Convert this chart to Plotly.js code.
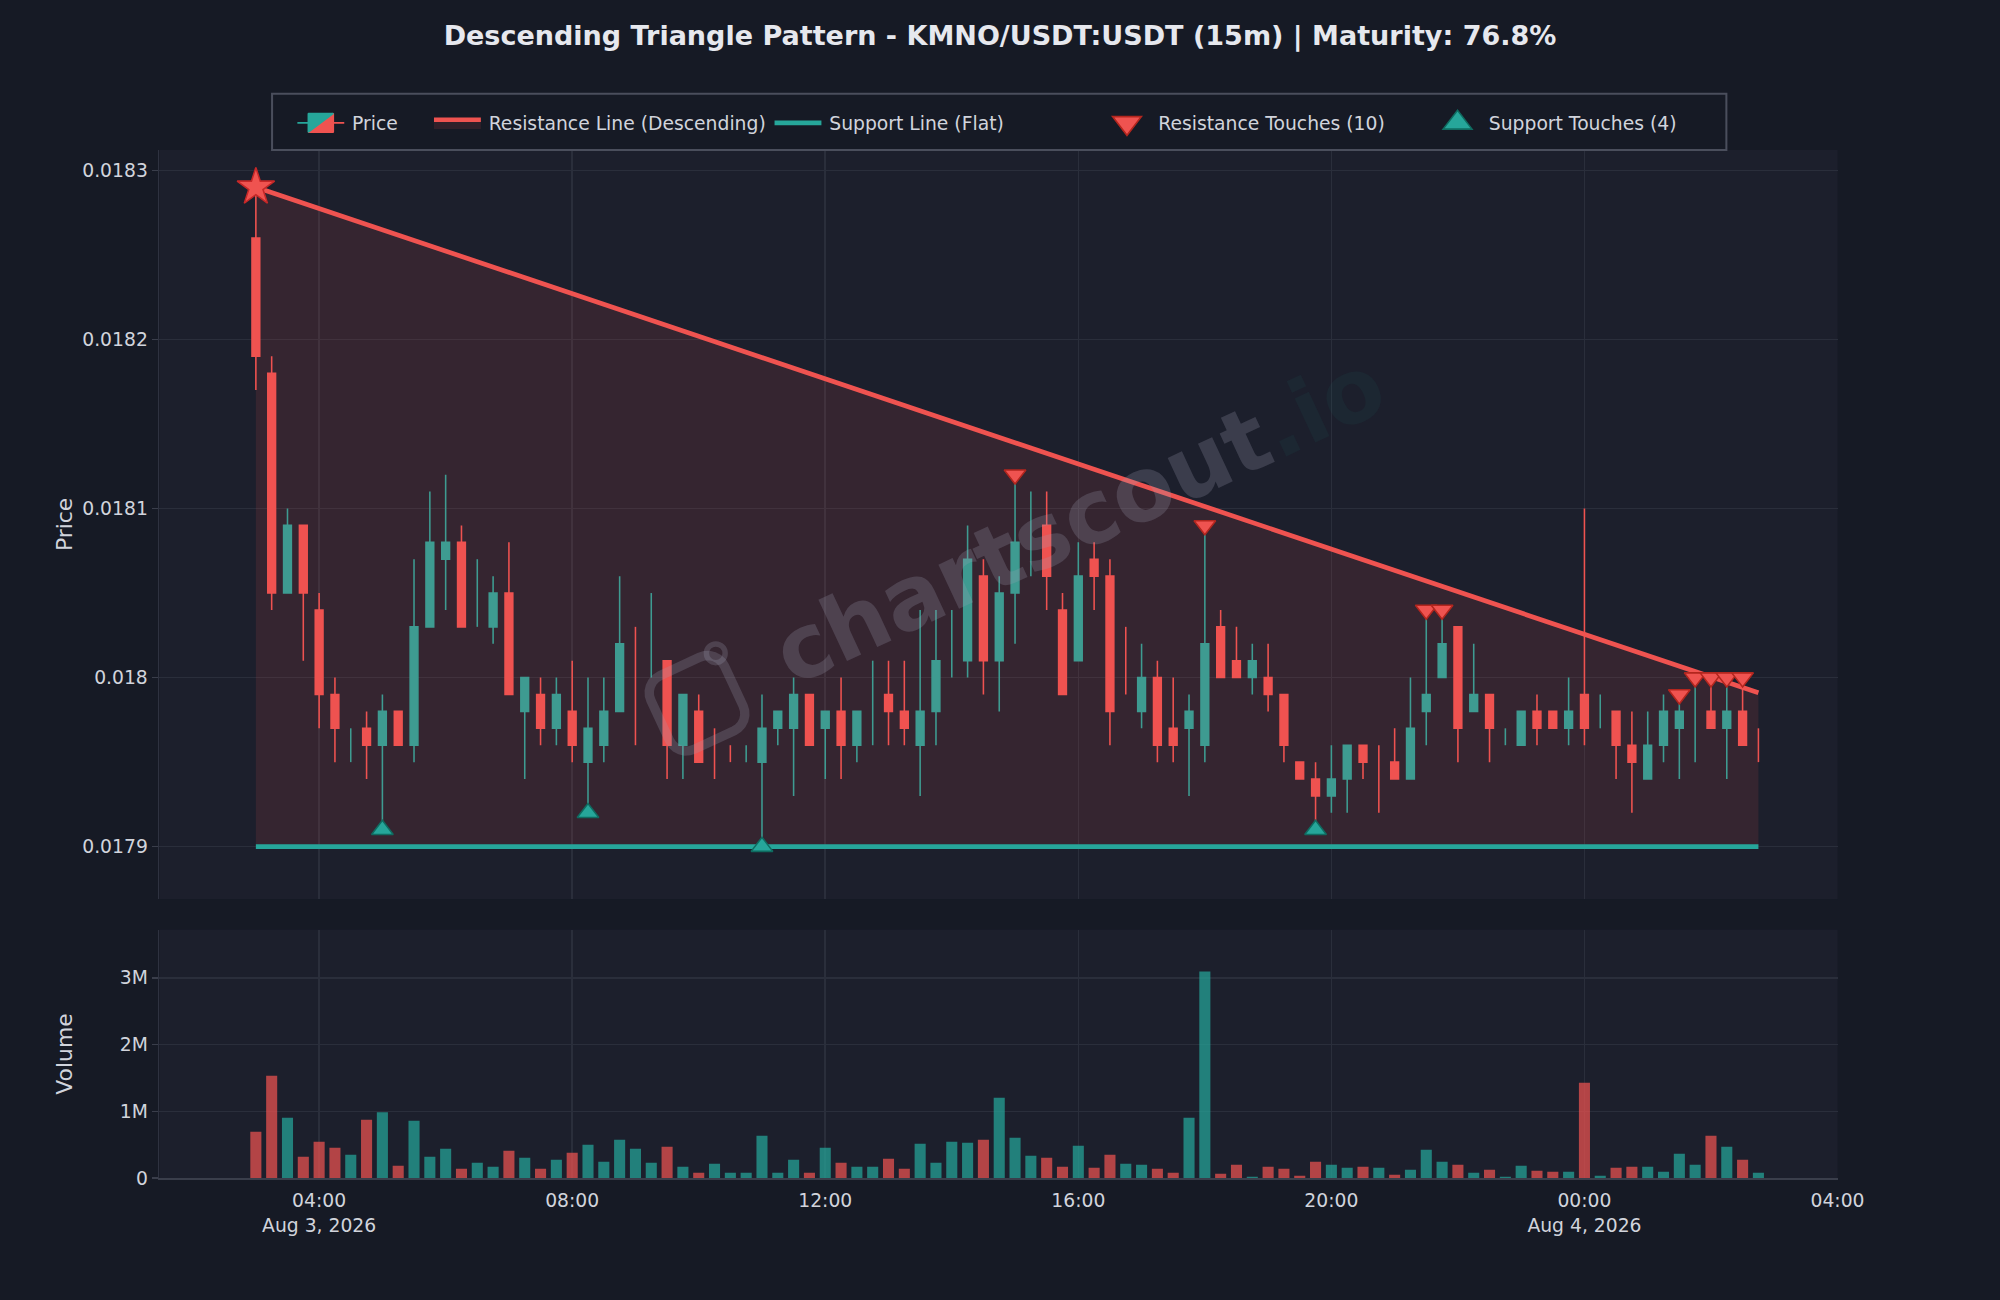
<!DOCTYPE html>
<html>
<head>
<meta charset="utf-8">
<script src="https://cdn.plot.ly/plotly-3.0.1.min.js"></script>
<style>
html,body{margin:0;padding:0;background:#161a25;}
#wrap{width:2000px;height:1300px;overflow:hidden;background:#161a25;}
#chart{width:1280px;height:832px;transform:scale(1.5625);transform-origin:0 0;}
</style>
</head>
<body>
<div id="wrap"><div id="chart"></div></div>
<script>
// ---- Data (15m candles, KMNO/USDT:USDT) ----
const times = [
'2026-08-03 03:00','2026-08-03 03:15','2026-08-03 03:30','2026-08-03 03:45',
'2026-08-03 04:00','2026-08-03 04:15','2026-08-03 04:30','2026-08-03 04:45',
'2026-08-03 05:00','2026-08-03 05:15','2026-08-03 05:30','2026-08-03 05:45',
'2026-08-03 06:00','2026-08-03 06:15','2026-08-03 06:30','2026-08-03 06:45',
'2026-08-03 07:00','2026-08-03 07:15','2026-08-03 07:30','2026-08-03 07:45',
'2026-08-03 08:00','2026-08-03 08:15','2026-08-03 08:30','2026-08-03 08:45',
'2026-08-03 09:00','2026-08-03 09:15','2026-08-03 09:30','2026-08-03 09:45',
'2026-08-03 10:00','2026-08-03 10:15','2026-08-03 10:30','2026-08-03 10:45',
'2026-08-03 11:00','2026-08-03 11:15','2026-08-03 11:30','2026-08-03 11:45',
'2026-08-03 12:00','2026-08-03 12:15','2026-08-03 12:30','2026-08-03 12:45',
'2026-08-03 13:00','2026-08-03 13:15','2026-08-03 13:30','2026-08-03 13:45',
'2026-08-03 14:00','2026-08-03 14:15','2026-08-03 14:30','2026-08-03 14:45',
'2026-08-03 15:00','2026-08-03 15:15','2026-08-03 15:30','2026-08-03 15:45',
'2026-08-03 16:00','2026-08-03 16:15','2026-08-03 16:30','2026-08-03 16:45',
'2026-08-03 17:00','2026-08-03 17:15','2026-08-03 17:30','2026-08-03 17:45',
'2026-08-03 18:00','2026-08-03 18:15','2026-08-03 18:30','2026-08-03 18:45',
'2026-08-03 19:00','2026-08-03 19:15','2026-08-03 19:30','2026-08-03 19:45',
'2026-08-03 20:00','2026-08-03 20:15','2026-08-03 20:30','2026-08-03 20:45',
'2026-08-03 21:00','2026-08-03 21:15','2026-08-03 21:30','2026-08-03 21:45',
'2026-08-03 22:00','2026-08-03 22:15','2026-08-03 22:30','2026-08-03 22:45',
'2026-08-03 23:00','2026-08-03 23:15','2026-08-03 23:30','2026-08-03 23:45',
'2026-08-04 00:00','2026-08-04 00:15','2026-08-04 00:30','2026-08-04 00:45',
'2026-08-04 01:00','2026-08-04 01:15','2026-08-04 01:30','2026-08-04 01:45',
'2026-08-04 02:00','2026-08-04 02:15','2026-08-04 02:30','2026-08-04 02:45'
];
const openPrices = [
0.01826,0.01818,0.01805,0.01809,0.01804,0.01799,0.01796,0.01797,0.01796,0.01798,
0.01796,0.01803,0.01807,0.01808,0.01804,0.01803,0.01805,0.01798,0.01799,0.01797,
0.01798,0.01795,0.01796,0.01798,0.01800,0.01802,0.01801,0.01796,0.01798,0.01796,
0.01795,0.01796,0.01795,0.01797,0.01797,0.01799,0.01797,0.01798,0.01796,0.01798,
0.01799,0.01798,0.01796,0.01798,0.01802,0.01801,0.01806,0.01801,0.01805,0.01808,
0.01809,0.01804,0.01801,0.01807,0.01806,0.01800,0.01798,0.01800,0.01797,0.01797,
0.01796,0.01803,0.01801,0.01800,0.01800,0.01799,0.01795,0.01794,0.01793,0.01794,
0.01796,0.01794,0.01795,0.01794,0.01798,0.01800,0.01803,0.01798,0.01799,0.01797,
0.01796,0.01798,0.01798,0.01797,0.01799,0.01798,0.01798,0.01796,0.01794,0.01796,
0.01797,0.01798,0.01798,0.01797,0.01798,0.01796
];
const highPrices = [
0.01829,0.01819,0.01810,0.01809,0.01805,0.01800,0.01797,0.01798,0.01799,0.01798,
0.01807,0.01811,0.01812,0.01809,0.01807,0.01806,0.01808,0.01800,0.01800,0.01800,
0.01801,0.01800,0.01800,0.01806,0.01803,0.01805,0.01801,0.01799,0.01799,0.01797,
0.01796,0.01796,0.01799,0.01798,0.01800,0.01799,0.01798,0.01800,0.01798,0.01801,
0.01801,0.01801,0.01804,0.01804,0.01804,0.01809,0.01807,0.01806,0.01812,0.01811,
0.01811,0.01805,0.01808,0.01808,0.01807,0.01803,0.01802,0.01801,0.01800,0.01799,
0.01809,0.01804,0.01803,0.01802,0.01802,0.01799,0.01795,0.01795,0.01796,0.01796,
0.01796,0.01796,0.01797,0.01800,0.01804,0.01804,0.01803,0.01802,0.01799,0.01797,
0.01798,0.01799,0.01798,0.01800,0.01810,0.01799,0.01798,0.01798,0.01798,0.01799,
0.01799,0.01800,0.01800,0.01800,0.01800,0.01797
];
const lowPrices = [
0.01817,0.01804,0.01805,0.01801,0.01797,0.01795,0.01795,0.01794,0.01791,0.01796,
0.01795,0.01803,0.01804,0.01803,0.01803,0.01802,0.01799,0.01794,0.01796,0.01796,
0.01795,0.01792,0.01795,0.01798,0.01796,0.01800,0.01794,0.01794,0.01795,0.01794,
0.01795,0.01795,0.01790,0.01796,0.01793,0.01796,0.01794,0.01794,0.01795,0.01796,
0.01796,0.01796,0.01793,0.01796,0.01800,0.01800,0.01799,0.01798,0.01802,0.01806,
0.01804,0.01799,0.01801,0.01804,0.01796,0.01799,0.01797,0.01795,0.01795,0.01793,
0.01795,0.01800,0.01800,0.01799,0.01798,0.01795,0.01794,0.01791,0.01792,0.01792,
0.01794,0.01792,0.01794,0.01794,0.01796,0.01800,0.01795,0.01798,0.01795,0.01796,
0.01796,0.01796,0.01797,0.01796,0.01796,0.01797,0.01794,0.01792,0.01794,0.01795,
0.01794,0.01795,0.01797,0.01794,0.01796,0.01795
];
const closePrices = [
0.01819,0.01805,0.01809,0.01805,0.01799,0.01797,0.01796,0.01796,0.01798,0.01796,
0.01803,0.01808,0.01808,0.01803,0.01804,0.01805,0.01799,0.01800,0.01797,0.01799,
0.01796,0.01797,0.01798,0.01802,0.01800,0.01802,0.01796,0.01799,0.01795,0.01796,
0.01795,0.01796,0.01797,0.01798,0.01799,0.01796,0.01798,0.01796,0.01798,0.01798,
0.01798,0.01797,0.01798,0.01801,0.01802,0.01807,0.01801,0.01805,0.01808,0.01808,
0.01806,0.01799,0.01806,0.01806,0.01798,0.01800,0.01800,0.01796,0.01796,0.01798,
0.01802,0.01800,0.01800,0.01801,0.01799,0.01796,0.01794,0.01793,0.01794,0.01796,
0.01795,0.01794,0.01794,0.01797,0.01799,0.01802,0.01797,0.01799,0.01797,0.01797,
0.01798,0.01797,0.01797,0.01798,0.01797,0.01798,0.01796,0.01795,0.01796,0.01798,
0.01798,0.01798,0.01797,0.01798,0.01796,0.01796
];
const volumes = [
695000,1535000,905000,320000,545000,455000,350000,875000,985000,185000,
860000,320000,440000,140000,230000,170000,410000,305000,140000,275000,
380000,500000,245000,575000,440000,230000,470000,170000,80000,215000,
80000,80000,635000,80000,275000,80000,455000,230000,170000,170000,
290000,140000,515000,230000,545000,530000,575000,1205000,605000,335000,
305000,170000,485000,155000,350000,215000,200000,140000,80000,905000,
3095000,65000,200000,20000,170000,140000,35000,245000,200000,155000,
170000,155000,50000,125000,425000,245000,200000,80000,125000,20000,
185000,110000,95000,95000,1430000,35000,155000,170000,170000,95000,
365000,200000,635000,470000,275000,80000
];

// Pattern lines
const lineTimes = ['2026-08-03 03:00', '2026-08-04 02:45'];
const resistanceLinePrices = [0.01829, 0.017991];
const supportLinePrices = [0.0179, 0.0179];

// Touches
const resistanceTouchTimes = ['2026-08-03 15:00','2026-08-03 18:00','2026-08-03 21:30','2026-08-03 21:45',
  '2026-08-04 01:30','2026-08-04 01:45','2026-08-04 02:00','2026-08-04 02:15','2026-08-04 02:30'];
const resistanceTouchPrices = [0.01812,0.01809,0.01804,0.01804,0.01799,0.01800,0.01800,0.01800,0.01800];
const supportTouchTimes = ['2026-08-03 05:00','2026-08-03 08:15','2026-08-03 11:00','2026-08-03 19:45'];
const supportTouchPrices = [0.01791,0.01792,0.01790,0.01791];
const patternStartTime = ['2026-08-03 03:00'];
const patternStartPrice = [0.01829];

// ---- Styling ----
const GREEN = '#26a69a', RED = '#ef5350';
const GRID = '#2a2e3b';
const TXT = '#d1d4dc';
const FONT = 'DejaVu Sans, sans-serif';
const volColors = closePrices.map((c, i) => c >= openPrices[i] ? 'rgba(38,166,154,0.72)' : 'rgba(239,83,80,0.72)');

// dojis (open == close) are drawn as bare wicks
const isDoji = openPrices.map((o, i) => o === closePrices[i]);
const pick = (arr, want) => arr.filter((_, i) => isDoji[i] === want);

// touch marker size: 16 nominal (legend), drawn at 12 in the plot via sizeref
const TOUCH_SIZE = 16, TOUCH_REF = 16 / 12;
const sizeFor = arr => arr.map(() => TOUCH_SIZE);

const traces = [
  {
    type: 'candlestick', name: 'Price', x: pick(times, false),
    open: pick(openPrices, false), high: pick(highPrices, false),
    low: pick(lowPrices, false), close: pick(closePrices, false),
    xaxis: 'x', yaxis: 'y', legend: 'legend',
    increasing: {line: {color: GREEN, width: 1}, fillcolor: GREEN},
    decreasing: {line: {color: RED, width: 1}, fillcolor: RED},
    whiskerwidth: 0
  },
  {
    type: 'ohlc', name: 'Price', x: pick(times, true),
    open: pick(openPrices, true), high: pick(highPrices, true),
    low: pick(lowPrices, true), close: pick(closePrices, true),
    xaxis: 'x', yaxis: 'y', showlegend: false, tickwidth: 0,
    increasing: {line: {color: GREEN, width: 1}},
    decreasing: {line: {color: RED, width: 1}}
  },
  {
    type: 'scatter', mode: 'lines', name: 'Support Line (Flat)', x: lineTimes, y: supportLinePrices,
    line: {color: GREEN, width: 3}, xaxis: 'x', yaxis: 'y', legend: 'legend3'
  },
  {
    type: 'scatter', mode: 'lines', name: 'Resistance Line (Descending)', x: lineTimes, y: resistanceLinePrices,
    line: {color: RED, width: 3}, fill: 'tonexty', fillcolor: 'rgba(239,83,80,0.12)',
    xaxis: 'x', yaxis: 'y', legend: 'legend2'
  },
  {
    type: 'scatter', mode: 'markers', name: 'Resistance Touches (10)', x: resistanceTouchTimes, y: resistanceTouchPrices,
    marker: {symbol: 'triangle-down', size: sizeFor(resistanceTouchTimes), sizeref: TOUCH_REF, sizemode: 'diameter',
             opacity: 1, color: RED, line: {color: '#b3261e', width: 1}},
    xaxis: 'x', yaxis: 'y', legend: 'legend4'
  },
  {
    type: 'scatter', mode: 'markers', name: 'Support Touches (4)', x: supportTouchTimes, y: supportTouchPrices,
    marker: {symbol: 'triangle-up', size: sizeFor(supportTouchTimes), sizeref: TOUCH_REF, sizemode: 'diameter',
             opacity: 1, color: GREEN, line: {color: '#0f6b60', width: 1}},
    xaxis: 'x', yaxis: 'y', legend: 'legend5'
  },
  {
    type: 'scatter', mode: 'markers', name: 'Pattern Start', x: patternStartTime, y: patternStartPrice,
    marker: {symbol: 'star', size: 18, color: RED, line: {color: '#c62828', width: 1}},
    xaxis: 'x', yaxis: 'y', showlegend: false
  },
  {
    type: 'bar', name: 'Volume', x: times, y: volumes, marker: {color: volColors, line: {width: 0}},
    width: 630000, xaxis: 'x2', yaxis: 'y2', showlegend: false
  }
];

// plot area in layout pixels (figure 1280x832, displayed at 1.5625x)
const M = {l: 102, r: 104.3, t: 95.5, b: 77.7};
const W = 1280, H = 832;
const plotL = M.l, plotR = W - M.r, plotT = M.t, plotB = H - M.b;
const px2x = p => (p - plotL) / (plotR - plotL);
const px2y = p => (plotB - p) / (plotB - plotT);

function legendAt(textStartPx) {
  return {
    x: px2x(textStartPx - 40), y: px2y(78.1), xanchor: 'left', yanchor: 'middle',
    orientation: 'h', bgcolor: 'rgba(0,0,0,0)', borderwidth: 0,
    font: {family: FONT, size: 12, color: TXT}
  };
}

// watermark icon (rotated rounded square + dot)
function iconPath(cx, cy, side, rad, angDeg) {
  const a = angDeg * Math.PI / 180, h = side / 2, pts = [];
  const corners = [[h - rad, -h + rad, -90], [h - rad, h - rad, 0], [-h + rad, h - rad, 90], [-h + rad, -h + rad, 180]];
  corners.forEach(([ccx, ccy, start]) => {
    for (let k = 0; k <= 6; k++) {
      const t = (start + k * 15) * Math.PI / 180;
      pts.push([ccx + rad * Math.cos(t), ccy + rad * Math.sin(t)]);
    }
  });
  return pts.map(([x, y], i) => {
    const rx = cx + x * Math.cos(a) - y * Math.sin(a);
    const ry = cy + x * Math.sin(a) + y * Math.cos(a);
    return (i ? 'L' : 'M') + px2x(rx).toFixed(5) + ',' + px2y(ry).toFixed(5);
  }).join('') + 'Z';
}

const xRange = ['2026-08-03 01:28:30', '2026-08-04 04:00'];
const WM = 'rgba(160,160,178,0.24)';

const layout = {
  width: W, height: H,
  paper_bgcolor: '#161a25', plot_bgcolor: '#1c1f2c',
  margin: {l: M.l, r: M.r, t: M.t, b: M.b, pad: 0},
  font: {family: FONT, size: 12, color: TXT},
  title: {
    text: 'Descending Triangle Pattern - KMNO/USDT:USDT (15m) | Maturity: 76.8%',
    x: 0.5, xref: 'container', xanchor: 'center', y: 1 - 23/H, yanchor: 'middle',
    font: {family: FONT, size: 17.3, weight: 700, color: '#e6e8ee'}
  },
  showlegend: true,
  legend: legendAt(225.3),
  legend2: legendAt(312.7),
  legend3: legendAt(530.6),
  legend4: legendAt(741.1),
  legend5: legendAt(952.6),
  xaxis: {
    domain: [0, 1], anchor: 'y', matches: 'x2', type: 'date', range: xRange,
    showticklabels: false, gridcolor: GRID, zeroline: false,
    dtick: 14400000, tick0: '2026-08-03 00:00', rangeslider: {visible: false}
  },
  yaxis: {
    domain: [0.2714, 1], range: [0.017869, 0.018312], anchor: 'x',
    dtick: 0.0001, tick0: 0.0179, gridcolor: GRID, zeroline: false,
    ticks: 'outside', ticklen: 4, tickcolor: '#3a3e4b', showline: true, linecolor: '#2e3240'
  },
  xaxis2: {
    domain: [0, 1], anchor: 'y2', type: 'date', range: xRange,
    gridcolor: GRID, zeroline: false, dtick: 14400000, tick0: '2026-08-03 00:00',
    showline: true, linecolor: '#3a3e4b', linewidth: 1.3, ticklabelstandoff: 3
  },
  yaxis2: {
    domain: [0, 0.2416], range: [0, 3720000], anchor: 'x2',
    dtick: 1000000, gridcolor: GRID, zeroline: false,
    ticks: 'outside', ticklen: 4, tickcolor: '#3a3e4b', showline: true, linecolor: '#2e3240'
  },
  shapes: [
    {type: 'rect', xref: 'paper', yref: 'paper', x0: px2x(174.1), x1: px2x(1104.6), y0: px2y(95.5), y1: px2y(59.5),
     line: {color: '#4a4e5c', width: 1.3}, fillcolor: 'rgba(0,0,0,0)', layer: 'above'},
    {type: 'path', xref: 'paper', yref: 'paper', path: iconPath(446, 450, 52, 12, -25),
     line: {color: WM, width: 6}, fillcolor: 'rgba(0,0,0,0)', layer: 'above'},
    {type: 'circle', xref: 'paper', yref: 'paper', x0: px2x(452), x1: px2x(464), y0: px2y(424), y1: px2y(412),
     line: {color: WM, width: 3.5}, fillcolor: 'rgba(0,0,0,0)', layer: 'above'}
  ],
  annotations: [
    {xref: 'paper', yref: 'paper', x: px2x(690), y: px2y(332), showarrow: false, textangle: -25,
     text: 'chartscout<span style="color:rgba(38,166,154,0.25)">.io</span>',
     font: {family: FONT, size: 57, weight: 700, color: WM}},
    {xref: 'paper', yref: 'paper', x: px2x(41), y: px2y(335.5), showarrow: false, textangle: -90,
     xanchor: 'center', yanchor: 'middle', text: 'Price', font: {family: FONT, size: 14, color: TXT}},
    {xref: 'paper', yref: 'paper', x: px2x(41), y: px2y(674.8), showarrow: false, textangle: -90,
     xanchor: 'center', yanchor: 'middle', text: 'Volume', font: {family: FONT, size: 14, color: TXT}}
  ]
};

Plotly.newPlot('chart', traces, layout, {displayModeBar: false, staticPlot: true});
</script>
</body>
</html>
